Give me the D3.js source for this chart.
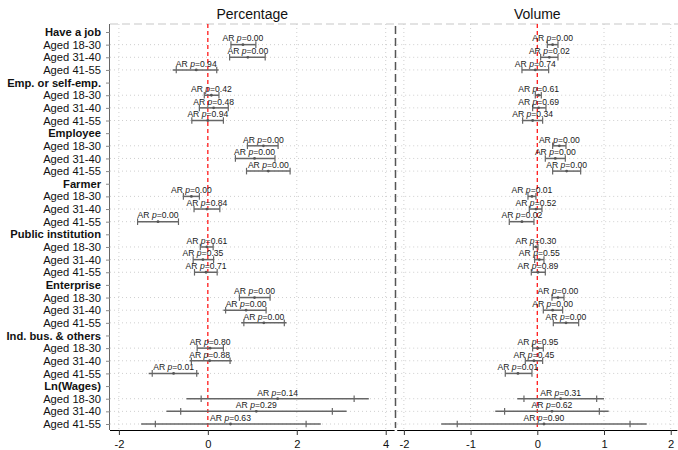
<!DOCTYPE html>
<html>
<head>
<meta charset="utf-8">
<script src="https://cdn.jsdelivr.net/npm/d3@7"></script>
<style>
  html, body { margin: 0; padding: 0; background: #fff; }
  svg { display: block; font-family: "Liberation Sans", Arial, sans-serif; }
</style>
</head>
<body>
<svg id="chart" width="678" height="450"></svg>
<script>
// Outcome groups and age bands (rows, top to bottom)
const groups = ["Have a job", "Emp. or self-emp.", "Employee", "Farmer",
                "Public institution", "Enterprise", "Ind. bus. & others", "Ln(Wages)"];
const ages = ["Aged 18-30", "Aged 31-40", "Aged 41-55"];

const pctTicks = [-2, 0, 2, 4];
const volTicks = [-2, -1, 0, 1, 2];

// Percentage: point estimates, capped CI, AR interval, AR p-values
const pctEst   = [0.79, 0.90, -0.26,  0.08, 0.13, 0.00,  1.25, 1.05, 1.36,  -0.37, -0.02, -1.12,
                  -0.02, -0.11, -0.04,  1.05, 0.86, 1.26,  0.05, 0.04, -0.77,  1.57, 1.09, 0.51];
const pctCapLo = [0.52, 0.49, -0.71,  -0.08, -0.19, -0.36,  0.89, 0.62, 0.87,  -0.55, -0.31, -1.58,
                  -0.17, -0.33, -0.30,  0.71, 0.40, 0.81,  -0.24, -0.37, -1.25,  -0.15, -0.61, -1.18];
const pctCapHi = [1.08, 1.29, 0.20,  0.25, 0.46, 0.35,  1.58, 1.51, 1.85,  -0.19, 0.27, -0.66,
                  0.12, 0.13, 0.21,  1.40, 1.31, 1.72,  0.35, 0.50, -0.25,  3.29, 2.80, 2.21];
const pctArLo  = [0.52, 0.49, -0.79,  -0.08, -0.19, -0.36,  0.89, 0.62, 0.87,  -0.55, -0.31, -1.58,
                  -0.17, -0.33, -0.30,  0.71, 0.35, 0.75,  -0.24, -0.41, -1.33,  -0.48, -0.93, -1.50];
const pctArHi  = [1.08, 1.29, 0.24,  0.25, 0.46, 0.35,  1.58, 1.51, 1.85,  -0.19, 0.27, -0.66,
                  0.12, 0.13, 0.21,  1.40, 1.31, 1.77,  0.35, 0.54, -0.20,  3.62, 3.12, 2.54];
const pctP     = ["0.00", "0.00", "0.94",  "0.42", "0.48", "0.94",  "0.00", "0.00", "0.00",
                  "0.00", "0.84", "0.00",  "0.61", "0.35", "0.71",  "0.00", "0.00", "0.00",
                  "0.80", "0.88", "0.01",  "0.14", "0.29", "0.63"];

// Volume: point estimates, capped CI, AR interval, AR p-values
const volEst   = [0.23, 0.18, -0.03,  0.02, 0.02, -0.07,  0.33, 0.27, 0.44,  -0.08, -0.02, -0.23,
                  -0.02, 0.03, 0.01,  0.31, 0.23, 0.43,  0.01, -0.05, -0.29,  0.35, 0.22, 0.10];
const volCapLo = [0.15, 0.05, -0.23,  -0.03, -0.07, -0.22,  0.23, 0.12, 0.23,  -0.14, -0.12, -0.42,
                  -0.06, -0.04, -0.09,  0.22, 0.09, 0.24,  -0.07, -0.18, -0.48,  -0.20, -0.49, -1.20];
const volCapHi = [0.31, 0.31, 0.17,  0.06, 0.13, 0.08,  0.43, 0.42, 0.65,  -0.02, 0.07, -0.05,
                  0.01, 0.10, 0.12,  0.40, 0.38, 0.62,  0.09, 0.08, -0.08,  0.89, 0.93, 1.39];
const volArLo  = [0.15, 0.05, -0.23,  -0.03, -0.07, -0.22,  0.23, 0.12, 0.23,  -0.14, -0.12, -0.42,
                  -0.06, -0.04, -0.09,  0.22, 0.09, 0.24,  -0.07, -0.18, -0.48,  -0.30, -0.63, -1.44];
const volArHi  = [0.31, 0.31, 0.17,  0.06, 0.13, 0.08,  0.43, 0.42, 0.65,  -0.02, 0.07, -0.05,
                  0.01, 0.10, 0.12,  0.40, 0.38, 0.62,  0.09, 0.08, -0.08,  1.00, 1.07, 1.64];
const volP     = ["0.00", "0.02", "0.74",  "0.61", "0.69", "0.34",  "0.00", "0.00", "0.00",
                  "0.01", "0.52", "0.02",  "0.30", "0.55", "0.89",  "0.00", "0.00", "0.00",
                  "0.95", "0.45", "0.01",  "0.31", "0.62", "0.90"];

// Row list: each group header followed by its three age rows
const rows = [];
groups.forEach((g, gi) => {
  rows.push({ key: "h" + gi, label: g, header: true });
  ages.forEach((a, ai) => rows.push({ key: "r" + gi + "_" + ai, label: a, header: false, idx: gi * 3 + ai }));
});

const svg = d3.select("#chart");
const plotTop = 24, plotBottom = 430;
const y = d3.scalePoint().domain(rows.map(r => r.key)).range([32, 424]);
const tickFmt = d => (d < 0 ? "-" : "") + Math.abs(d);

const panels = [
  { title: "Percentage", x: d3.scaleLinear().domain([-2.2, 4.2]).range([110, 394.6]), ticks: pctTicks,
    est: pctEst, capLo: pctCapLo, capHi: pctCapHi, arLo: pctArLo, arHi: pctArHi, p: pctP },
  { title: "Volume", x: d3.scaleLinear().domain([-2.1, 2.1]).range([397.2, 677.4]), ticks: volTicks,
    est: volEst, capLo: volCapLo, capHi: volCapHi, arLo: volArLo, arHi: volArHi, p: volP }
];

// Top border
svg.append("line")
  .attr("x1", 110).attr("x2", 678).attr("y1", plotTop).attr("y2", plotTop)
  .attr("stroke", "#c8c8c8").attr("stroke-width", 1.2).attr("stroke-dasharray", "8,4");

panels.forEach(P => {
  const [x0, x1] = P.x.range();
  const g = svg.append("g");

  // Horizontal dotted grid at age rows
  g.selectAll("line.hgrid").data(rows.filter(r => !r.header)).join("line")
    .attr("x1", x0).attr("x2", x1)
    .attr("y1", r => y(r.key)).attr("y2", r => y(r.key))
    .attr("stroke", "#cfcfcf").attr("stroke-width", 1).attr("stroke-dasharray", "1,3");

  // Vertical dotted grid at ticks
  g.selectAll("line.vgrid").data(P.ticks.filter(t => t !== 0)).join("line")
    .attr("x1", d => P.x(d)).attr("x2", d => P.x(d))
    .attr("y1", plotTop).attr("y2", plotBottom)
    .attr("stroke", "#cfcfcf").attr("stroke-width", 1).attr("stroke-dasharray", "1,3");

  // Zero reference line
  g.append("line")
    .attr("x1", P.x(0)).attr("x2", P.x(0)).attr("y1", plotTop).attr("y2", plotBottom)
    .attr("stroke", "#ff1a1a").attr("stroke-width", 1.3).attr("stroke-dasharray", "4,3");

  // Bottom axis
  const ax = g.append("g").attr("transform", `translate(0,${plotBottom})`)
    .call(d3.axisBottom(P.x).tickValues(P.ticks).tickFormat(tickFmt)
      .tickSize(5).tickPadding(5.5).tickSizeOuter(0));
  ax.select(".domain").attr("stroke", "#000").attr("d", `M${x0},0.5H${x1}`);
  ax.selectAll(".tick line").attr("stroke", "#333");
  ax.selectAll(".tick text").attr("font-size", "11.2px").attr("fill", "#111")
    .attr("font-family", "Liberation Sans, Arial, sans-serif");

  // Title
  g.append("text").attr("x", (x0 + x1) / 2).attr("y", 19)
    .attr("text-anchor", "middle").attr("font-size", "14px").attr("fill", "#111")
    .text(P.title);

  // Estimates with intervals
  const data = rows.filter(r => !r.header).map(r => ({
    yy: y(r.key), est: P.est[r.idx], capLo: P.capLo[r.idx], capHi: P.capHi[r.idx],
    arLo: P.arLo[r.idx], arHi: P.arHi[r.idx], p: P.p[r.idx]
  }));
  const m = g.selectAll("g.mark").data(data).join("g");
  m.append("line")
    .attr("x1", d => P.x(d.arLo)).attr("x2", d => P.x(d.arHi))
    .attr("y1", d => d.yy).attr("y2", d => d.yy)
    .attr("stroke", "#666").attr("stroke-width", 1.5);
  ["capLo", "capHi"].forEach(k => {
    m.append("line")
      .attr("x1", d => P.x(d[k])).attr("x2", d => P.x(d[k]))
      .attr("y1", d => d.yy - 3.3).attr("y2", d => d.yy + 3.3)
      .attr("stroke", "#666").attr("stroke-width", 1.2);
  });
  m.append("circle")
    .attr("cx", d => P.x(d.est)).attr("cy", d => d.yy).attr("r", 1.4)
    .attr("fill", "#555");
  const t = m.append("text")
    .attr("x", d => P.x(d.est)).attr("y", d => d.yy - 3.2)
    .attr("text-anchor", "middle").attr("font-size", "8.6px").attr("fill", "#1a1a1a");
  t.append("tspan").text("AR ");
  t.append("tspan").attr("font-style", "italic").text("p");
  t.append("tspan").text(d => "=" + d.p);
});

// Left y axis with row labels
const yAx = svg.append("g").attr("transform", "translate(110,0)")
  .call(d3.axisLeft(y).tickSize(4).tickPadding(5).tickSizeOuter(0)
    .tickFormat(k => rows.find(r => r.key === k).label));
yAx.select(".domain").attr("stroke", "#666").attr("d", `M-0.5,${plotTop}V${plotBottom}`);
yAx.selectAll(".tick line").attr("stroke", "#888");
yAx.selectAll(".tick text")
  .attr("font-size", "11.2px").attr("fill", "#111")
  .attr("font-family", "Liberation Sans, Arial, sans-serif")
  .attr("font-weight", k => rows.find(r => r.key === k).header ? "bold" : "normal");

// Panel separator
svg.append("line")
  .attr("x1", 395.5).attr("x2", 395.5).attr("y1", plotTop + 2).attr("y2", plotBottom - 2)
  .attr("stroke", "#555").attr("stroke-width", 1.5).attr("stroke-dasharray", "8,4");
</script>
</body>
</html>
